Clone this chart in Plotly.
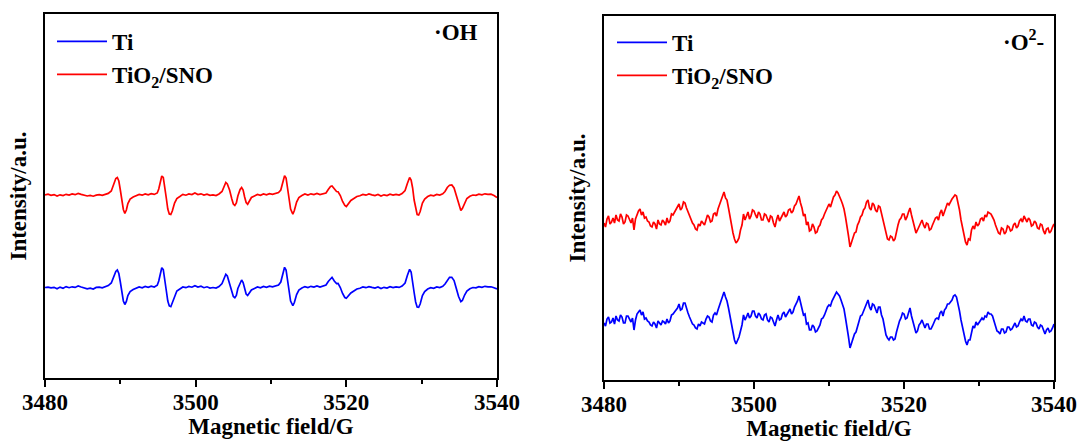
import plotly.graph_objects as go

# ---------------- DMPO-·OH spectra (left panel) ----------------
field_oh = [
    3480.0, 3480.4, 3480.8, 3481.2, 3481.6, 3482.0, 3482.4, 3482.8, 3483.2, 3483.6,
    3484.0, 3484.4, 3484.8, 3485.2, 3485.6, 3486.0, 3486.4, 3486.8, 3487.2, 3487.6,
    3488.0, 3488.4, 3488.8, 3489.1, 3489.4, 3489.6, 3489.8, 3490.0, 3490.2, 3490.4,
    3490.6, 3490.8, 3491.0, 3491.3, 3491.7, 3492.1, 3492.5, 3492.9, 3493.3, 3493.7,
    3494.1, 3494.5, 3494.9, 3495.1, 3495.3, 3495.5, 3495.7, 3495.9, 3496.1, 3496.3,
    3496.5, 3496.7, 3496.9, 3497.2, 3497.5, 3497.9, 3498.3, 3498.7, 3499.1, 3499.5,
    3499.9, 3500.3, 3500.7, 3501.1, 3501.5, 3501.9, 3502.3, 3502.7, 3503.1, 3503.5,
    3503.8, 3504.0, 3504.2, 3504.5, 3504.8, 3505.0, 3505.2, 3505.4, 3505.6, 3505.9,
    3506.1, 3506.3, 3506.5, 3506.7, 3506.9, 3507.1, 3507.4, 3507.8, 3508.2, 3508.6,
    3509.0, 3509.4, 3509.8, 3510.2, 3510.6, 3511.0, 3511.3, 3511.6, 3511.8, 3512.0,
    3512.2, 3512.4, 3512.6, 3512.9, 3513.1, 3513.4, 3513.7, 3514.1, 3514.5, 3514.9,
    3515.3, 3515.7, 3516.1, 3516.5, 3516.9, 3517.3, 3517.6, 3517.9, 3518.1, 3518.4,
    3518.7, 3518.9, 3519.2, 3519.5, 3519.8, 3520.0, 3520.3, 3520.6, 3521.0, 3521.4,
    3521.8, 3522.2, 3522.6, 3523.0, 3523.4, 3523.8, 3524.2, 3524.6, 3525.0, 3525.4,
    3525.8, 3526.2, 3526.6, 3527.0, 3527.4, 3527.8, 3528.1, 3528.4, 3528.6, 3528.8,
    3529.0, 3529.2, 3529.4, 3529.6, 3529.8, 3530.1, 3530.4, 3530.8, 3531.2, 3531.6,
    3532.0, 3532.4, 3532.8, 3533.1, 3533.4, 3533.7, 3534.0, 3534.3, 3534.6, 3534.9,
    3535.2, 3535.4, 3535.7, 3536.0, 3536.4, 3536.8, 3537.2, 3537.6, 3538.0, 3538.4,
    3538.8, 3539.2, 3539.6, 3540.0,
]

oh_tio2_sno = [
    183.0, 183.8, 182.6, 183.4, 181.9, 183.2, 182.5, 183.7, 183.0, 184.0,
    183.3, 184.5, 183.6, 182.8, 182.0, 182.6, 181.8, 182.9, 183.4, 182.7,
    183.9, 184.6, 187.0, 193.0, 199.5, 200.5, 197.0, 188.0, 178.0, 168.5,
    164.5, 168.0, 174.5, 179.0, 181.0, 182.3, 183.5, 182.8, 184.0, 183.2,
    184.3, 183.6, 185.0, 189.0, 197.0, 202.0, 200.5, 192.0, 180.0, 169.0,
    164.0, 163.5, 167.0, 175.0, 179.5, 181.5, 183.6, 182.8, 184.0, 183.4,
    185.0, 183.5, 184.2, 182.9, 183.8, 182.6, 183.1, 182.4, 184.0, 186.5,
    191.5, 195.5, 194.0, 188.0, 179.0, 174.0, 172.5, 175.0, 182.0, 188.5,
    190.5, 188.0, 181.0, 175.5, 173.8, 177.0, 180.5, 182.0, 183.5, 182.7,
    184.0, 183.2, 184.3, 183.6, 184.8, 185.5, 188.0, 196.5, 202.3, 200.0,
    191.0, 179.0, 169.0, 163.8, 167.5, 176.0, 180.5, 182.5, 184.0, 183.0,
    184.2, 183.5, 184.6, 183.4, 184.0, 185.0, 188.5, 191.5, 192.0, 189.0,
    186.5, 186.3, 182.5, 176.5, 172.5, 171.5, 174.0, 177.5, 179.5, 181.5,
    182.2, 183.5, 182.8, 184.0, 183.1, 182.4, 183.5, 182.0, 183.2, 182.5,
    183.8, 182.9, 183.6, 183.0, 184.5, 187.5, 194.5, 200.5, 198.0, 190.0,
    178.0, 168.5, 163.5, 163.0, 166.5, 175.0, 179.0, 181.5, 182.8, 182.2,
    183.6, 182.9, 184.2, 186.5, 190.5, 192.8, 193.0, 190.0, 182.0, 174.0,
    167.5, 169.5, 175.5, 179.5, 181.8, 183.0, 182.6, 183.8, 183.2, 184.2,
    183.6, 183.8, 182.5, 180.5,
]

oh_ti = [
    90.5, 90.9, 90.1, 90.7, 89.2, 90.9, 89.8, 91.4, 90.3, 91.2,
    90.6, 92.0, 91.0, 89.9, 89.2, 89.8, 89.0, 90.6, 90.9, 90.2,
    91.2, 92.4, 95.0, 101.0, 106.5, 108.0, 104.5, 96.0, 86.0, 77.0,
    73.5, 76.5, 82.5, 86.5, 88.5, 89.8, 91.0, 90.2, 91.5, 90.6,
    91.8, 91.0, 92.8, 97.0, 105.0, 110.3, 108.5, 99.5, 87.5, 77.0,
    72.0, 71.3, 75.0, 82.5, 87.0, 89.0, 91.0, 90.3, 91.6, 90.8,
    92.3, 91.0, 91.8, 90.3, 91.2, 90.0, 90.5, 89.9, 91.5, 94.5,
    100.0, 103.7, 102.0, 95.0, 86.0, 81.5, 80.3, 82.5, 89.5, 95.5,
    98.0, 95.5, 88.5, 84.0, 82.5, 84.5, 88.0, 89.5, 91.0, 90.2,
    91.5, 90.7, 91.8, 91.1, 92.3, 93.0, 96.0, 105.0, 110.7, 108.0,
    98.5, 86.5, 77.0, 72.3, 75.5, 83.5, 88.0, 90.0, 91.4, 90.5,
    91.7, 91.0, 92.1, 90.9, 91.6, 93.0, 96.5, 99.5, 100.7, 97.0,
    94.5, 94.7, 90.5, 84.5, 80.5, 79.7, 82.0, 85.0, 87.0, 89.0,
    89.8, 91.0, 90.3, 91.4, 90.6, 89.9, 91.0, 89.5, 90.7, 90.0,
    91.3, 90.4, 91.1, 90.6, 92.0, 95.0, 102.5, 108.7, 106.0, 97.5,
    85.5, 76.0, 71.0, 70.7, 74.0, 82.5, 86.5, 89.0, 90.3, 89.7,
    91.1, 90.4, 91.7, 94.0, 98.0, 100.7, 100.7, 97.5, 89.5, 81.5,
    76.3, 77.5, 83.0, 87.0, 89.3, 90.5, 90.1, 91.3, 90.7, 91.7,
    91.1, 91.2, 90.2, 89.0,
]

# ---------------- DMPO-·O2- spectra (right panel) ----------------
field_o2 = [
    3480.0, 3480.2, 3480.4, 3480.6, 3480.8, 3481.0, 3481.2, 3481.4, 3481.6, 3481.8,
    3482.0, 3482.2, 3482.4, 3482.6, 3482.8, 3483.0, 3483.2, 3483.4, 3483.6, 3483.8,
    3484.0, 3484.2, 3484.4, 3484.6, 3484.8, 3485.0, 3485.2, 3485.4, 3485.6, 3485.8,
    3486.0, 3486.2, 3486.4, 3486.6, 3486.8, 3487.0, 3487.2, 3487.4, 3487.6, 3487.8,
    3488.0, 3488.2, 3488.4, 3488.6, 3488.8, 3489.0, 3489.2, 3489.4, 3489.6, 3489.8,
    3490.0, 3490.2, 3490.4, 3490.6, 3490.8, 3491.0, 3491.2, 3491.4, 3491.6, 3491.8,
    3492.0, 3492.2, 3492.4, 3492.6, 3492.8, 3493.0, 3493.2, 3493.4, 3493.6, 3493.8,
    3494.0, 3494.2, 3494.4, 3494.6, 3494.8, 3495.0, 3495.2, 3495.4, 3495.6, 3495.8,
    3496.0, 3496.2, 3496.4, 3496.6, 3496.8, 3497.0, 3497.2, 3497.4, 3497.6, 3497.8,
    3498.0, 3498.2, 3498.4, 3498.6, 3498.8, 3499.0, 3499.2, 3499.4, 3499.6, 3499.8,
    3500.0, 3500.2, 3500.4, 3500.6, 3500.8, 3501.0, 3501.2, 3501.4, 3501.6, 3501.8,
    3502.0, 3502.2, 3502.4, 3502.6, 3502.8, 3503.0, 3503.2, 3503.4, 3503.6, 3503.8,
    3504.0, 3504.2, 3504.4, 3504.6, 3504.8, 3505.0, 3505.2, 3505.4, 3505.6, 3505.8,
    3506.0, 3506.2, 3506.4, 3506.6, 3506.8, 3507.0, 3507.2, 3507.4, 3507.6, 3507.8,
    3508.0, 3508.2, 3508.4, 3508.6, 3508.8, 3509.0, 3509.2, 3509.4, 3509.6, 3509.8,
    3510.0, 3510.2, 3510.4, 3510.6, 3510.8, 3511.0, 3511.2, 3511.4, 3511.6, 3511.8,
    3512.0, 3512.2, 3512.4, 3512.6, 3512.8, 3513.0, 3513.2, 3513.4, 3513.6, 3513.8,
    3514.0, 3514.2, 3514.4, 3514.6, 3514.8, 3515.0, 3515.2, 3515.4, 3515.6, 3515.8,
    3516.0, 3516.2, 3516.4, 3516.6, 3516.8, 3517.0, 3517.2, 3517.4, 3517.6, 3517.8,
    3518.0, 3518.2, 3518.4, 3518.6, 3518.8, 3519.0, 3519.2, 3519.4, 3519.6, 3519.8,
    3520.0, 3520.2, 3520.4, 3520.6, 3520.8, 3521.0, 3521.2, 3521.4, 3521.6, 3521.8,
    3522.0, 3522.2, 3522.4, 3522.6, 3522.8, 3523.0, 3523.2, 3523.4, 3523.6, 3523.8,
    3524.0, 3524.2, 3524.4, 3524.6, 3524.8, 3525.0, 3525.2, 3525.4, 3525.6, 3525.8,
    3526.0, 3526.2, 3526.4, 3526.6, 3526.8, 3527.0, 3527.2, 3527.4, 3527.6, 3527.8,
    3528.0, 3528.2, 3528.4, 3528.6, 3528.8, 3529.0, 3529.2, 3529.4, 3529.6, 3529.8,
    3530.0, 3530.2, 3530.4, 3530.6, 3530.8, 3531.0, 3531.2, 3531.4, 3531.6, 3531.8,
    3532.0, 3532.2, 3532.4, 3532.6, 3532.8, 3533.0, 3533.2, 3533.4, 3533.6, 3533.8,
    3534.0, 3534.2, 3534.4, 3534.6, 3534.8, 3535.0, 3535.2, 3535.4, 3535.6, 3535.8,
    3536.0, 3536.2, 3536.4, 3536.6, 3536.8, 3537.0, 3537.2, 3537.4, 3537.6, 3537.8,
    3538.0, 3538.2, 3538.4, 3538.6, 3538.8, 3539.0, 3539.2, 3539.4, 3539.6, 3539.8,
    3540.0,
]

o2_tio2_sno = [
    157, 153, 161, 164, 156, 158, 162, 157, 165, 160, 159, 166, 163, 156, 158, 165, 164, 160, 157, 162,
    150, 161, 166, 169, 171, 165, 168, 162, 163, 159, 158, 154, 153, 158, 156, 151, 160, 156, 155, 160,
    158, 155, 162, 157, 159, 166, 165, 168, 170, 173, 176, 170, 172, 178, 177, 172, 168, 163, 160, 157,
    155, 151, 150, 156, 154, 159, 157, 155, 160, 165, 163, 158, 159, 166, 167, 164, 171, 175, 179, 183,
    188, 182, 180, 172, 163, 155, 147, 141, 137, 139, 142, 150, 155, 166, 160, 164, 168, 161, 164, 170,
    169, 165, 162, 168, 166, 160, 160, 166, 165, 161, 158, 164, 163, 157, 153, 160, 165, 159, 162, 166,
    168, 163, 165, 170, 171, 167, 169, 174, 176, 180, 184, 177, 172, 164, 166, 155, 158, 149, 150, 156,
    153, 147, 148, 153, 155, 160, 162, 166, 170, 174, 176, 173, 179, 183, 185, 189, 187, 184, 180, 176,
    171, 163, 155, 144, 133, 137, 142, 147, 148, 155, 158, 163, 165, 170, 172, 178, 180, 172, 170, 177,
    175, 170, 168, 174, 173, 166, 160, 152, 145, 141, 140, 144, 143, 139, 141, 149, 155, 160, 162, 166,
    166, 160, 163, 168, 172, 165, 158, 151, 147, 150, 154, 158, 160, 155, 152, 157, 156, 150, 151, 155,
    158, 162, 163, 160, 167, 170, 164, 169, 172, 177, 175, 179, 181, 183, 185, 184, 178, 170, 160, 152,
    145, 138, 135, 141, 140, 150, 154, 151, 158, 154, 156, 161, 162, 159, 165, 163, 168, 167, 166, 163,
    160, 155, 150, 147, 146, 152, 151, 146, 148, 154, 153, 149, 150, 155, 157, 152, 154, 159, 161, 158,
    164, 160, 158, 162, 160, 154, 155, 159, 157, 152, 151, 156, 155, 149, 146, 151, 152, 147, 149, 153,
    156,
]

o2_ti = [
    57, 54, 61, 63, 57, 58, 62, 56, 64, 60, 59, 65, 63, 57, 57, 64, 64, 61, 58, 62,
    50, 60, 66, 68, 70, 65, 68, 61, 62, 59, 58, 55, 54, 58, 56, 52, 59, 57, 55, 59,
    58, 56, 61, 57, 59, 65, 66, 68, 70, 72, 76, 70, 71, 77, 77, 71, 67, 63, 60, 56,
    55, 52, 51, 56, 54, 58, 57, 56, 61, 64, 63, 59, 58, 65, 67, 65, 70, 74, 79, 84,
    88, 83, 79, 72, 63, 55, 47, 40, 36, 39, 43, 49, 55, 65, 60, 63, 67, 62, 64, 69,
    69, 64, 62, 67, 65, 61, 60, 65, 66, 60, 58, 63, 62, 58, 54, 60, 65, 60, 61, 66,
    68, 63, 66, 69, 71, 66, 68, 73, 76, 79, 84, 77, 71, 65, 66, 56, 57, 50, 50, 55,
    53, 48, 49, 52, 55, 61, 62, 65, 70, 73, 75, 74, 79, 82, 85, 88, 86, 84, 80, 75,
    71, 62, 54, 43, 32, 37, 42, 46, 48, 54, 57, 64, 65, 69, 72, 77, 80, 73, 70, 76,
    75, 71, 67, 73, 73, 65, 61, 53, 45, 42, 40, 43, 43, 40, 41, 48, 54, 59, 62, 67,
    66, 61, 62, 67, 72, 64, 58, 52, 47, 49, 55, 57, 60, 56, 52, 56, 56, 51, 51, 54,
    58, 61, 62, 61, 67, 69, 64, 70, 72, 76, 76, 78, 80, 84, 85, 83, 77, 69, 60, 53,
    45, 39, 35, 40, 40, 49, 54, 52, 58, 55, 57, 60, 62, 60, 64, 63, 68, 66, 66, 64,
    60, 54, 49, 48, 46, 51, 51, 47, 48, 53, 53, 50, 51, 54, 57, 53, 54, 58, 61, 59,
    64, 59, 58, 61, 61, 55, 54, 58, 57, 53, 51, 55, 54, 50, 46, 50, 52, 48, 49, 52,
    56,
]

x_ticks = [3480, 3500, 3520, 3540]
x_minor_ticks = [3490, 3510, 3530]
labels = ["Ti", "TiO<sub>2</sub>/SNO"]
BLUE, RED = "#0000FF", "#FF0000"
SERIF = "Liberation Serif"
LINE_W = 1.7
FRAME_W = 1.8

W, H = 1083, 442

fig = go.Figure()
fig.add_trace(go.Scatter(x=field_oh, y=oh_ti, mode="lines", name=labels[0],
                         line=dict(color=BLUE, width=LINE_W), xaxis="x", yaxis="y", legend="legend"))
fig.add_trace(go.Scatter(x=field_oh, y=oh_tio2_sno, mode="lines", name=labels[1],
                         line=dict(color=RED, width=LINE_W), xaxis="x", yaxis="y", legend="legend"))
fig.add_trace(go.Scatter(x=field_o2, y=o2_ti, mode="lines", name=labels[0],
                         line=dict(color=BLUE, width=LINE_W), xaxis="x2", yaxis="y2", legend="legend2"))
fig.add_trace(go.Scatter(x=field_o2, y=o2_tio2_sno, mode="lines", name=labels[1],
                         line=dict(color=RED, width=LINE_W), xaxis="x2", yaxis="y2", legend="legend2"))

bold = dict(family=SERIF, size=23, color="black", weight="bold")


def x_axis(domain, anchor):
    return dict(
        domain=domain, anchor=anchor, range=[3480, 3540], tickvals=x_ticks,
        ticks="outside", ticklen=7, tickwidth=FRAME_W, tickcolor="black",
        minor=dict(tickvals=x_minor_ticks, ticks="outside", ticklen=4,
                   tickwidth=FRAME_W, tickcolor="black"),
        showline=True, linecolor="black", linewidth=FRAME_W, mirror=True,
        showgrid=False, zeroline=False, tickfont=bold, automargin=False,
        ticklabelstandoff=-5,
        title=dict(text="Magnetic field/G", font=bold, standoff=0),
    )


def y_axis(domain, anchor):
    return dict(
        domain=domain, anchor=anchor, range=[0, 364],
        showticklabels=False, ticks="", showgrid=False, zeroline=False,
        showline=True, linecolor="black", linewidth=FRAME_W, mirror=True,
        automargin=False,
        title=dict(text="Intensity/a.u.", font=bold, standoff=10),
    )


def legend_at(x_px, y_px):
    return dict(x=x_px / W, y=1 - y_px / H, xanchor="left", yanchor="top",
                bgcolor="rgba(0,0,0,0)", font=bold,
                traceorder="normal", itemwidth=50)


fig.update_layout(
    width=W, height=H, margin=dict(l=0, r=0, t=0, b=0, autoexpand=False),
    paper_bgcolor="white", plot_bgcolor="white",
    xaxis=x_axis([45 / W, 497 / W], "y"),
    yaxis=y_axis([1 - 378 / H, 1 - 14 / H], "x"),
    xaxis2=x_axis([604 / W, 1054 / W], "y2"),
    yaxis2=y_axis([1 - 380 / H, 1 - 16 / H], "x2"),
    legend=legend_at(52, 20),
    legend2=legend_at(612, 21),
    annotations=[
        dict(text="·OH", x=480 / W, y=1 - 33 / H, xref="paper", yref="paper",
             xanchor="right", yanchor="middle", showarrow=False, font=bold),
        dict(text="·O<sup>2</sup>-", x=1046 / W, y=1 - 40 / H, xref="paper", yref="paper",
             xanchor="right", yanchor="middle", showarrow=False, font=bold),
    ],
)

fig.write_html("out.html")
